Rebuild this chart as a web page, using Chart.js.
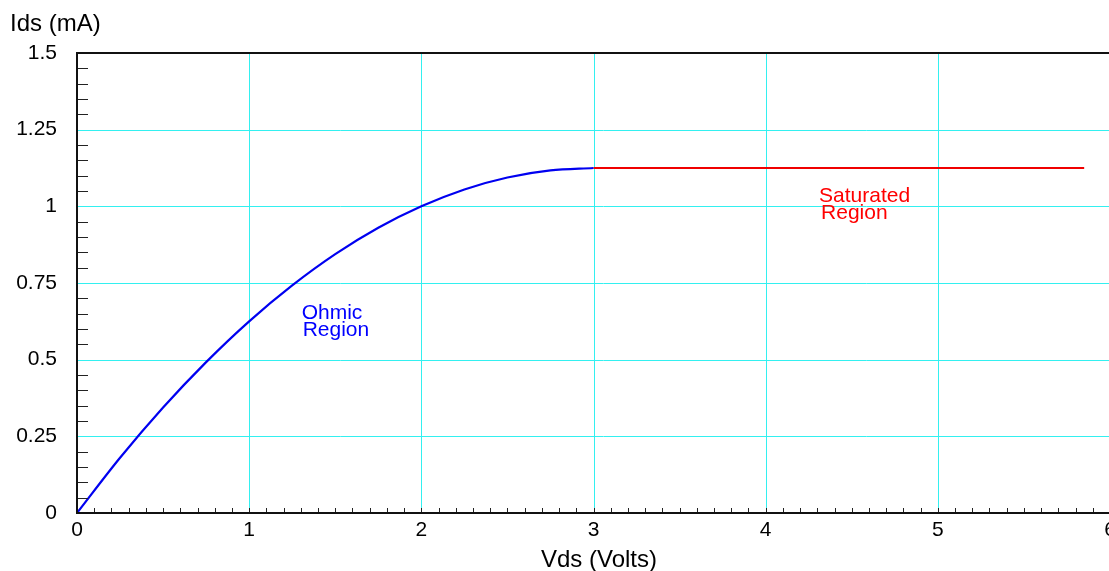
<!DOCTYPE html>
<html>
<head>
<meta charset="utf-8">
<script src="https://cdn.jsdelivr.net/npm/chart.js@4"></script>
<style>
  html, body { margin: 0; padding: 0; background: #fff; overflow: hidden; }
  #wrap { width: 1109px; height: 571px; overflow: hidden; }
</style>
</head>
<body>
<div id="wrap"><canvas id="ivChart" width="1130" height="571"></canvas></div>
<script>
// Ohmic region (Vds, Ids)
const ohmicVds = [0, 0.25, 0.5, 0.75, 1, 1.25, 1.5, 1.75, 2, 2.25, 2.5, 2.75, 3];
const ohmicIds = [0, 0.180, 0.344, 0.492, 0.625, 0.742, 0.844, 0.930, 1.0, 1.055, 1.094, 1.117, 1.125];

// Saturated region, flat line
const satVds = [3, 5.85];
const satIds = [1.125, 1.125];

const xTickStep = 1;
const yTickStep = 0.25;

const labelFont = '"Liberation Sans", Arial, sans-serif';
const gridCyan = '#33f0f0';

// cyan grid behind the curves
const gridPlugin = {
    id: 'cyanGrid',
    beforeDatasetsDraw(chart) {
        const ctx = chart.ctx;
        const a = chart.chartArea;
        ctx.save();
        ctx.strokeStyle = gridCyan;
        ctx.lineWidth = 1;
        ctx.beginPath();
        chart.scales.x.ticks.forEach(t => {
            const px = Math.round(chart.scales.x.getPixelForValue(t.value)) + 0.5;
            ctx.moveTo(px, a.top);
            ctx.lineTo(px, a.bottom);
        });
        chart.scales.y.ticks.forEach(t => {
            const py = Math.round(chart.scales.y.getPixelForValue(t.value)) + 0.5;
            ctx.moveTo(a.left, py);
            ctx.lineTo(a.right + 20, py);
        });
        ctx.stroke();
        ctx.restore();
    }
};

// axis lines, inward minor ticks, axis titles and region labels
const decorPlugin = {
    id: 'decor',
    afterDraw(chart) {
        const ctx = chart.ctx;
        const a = chart.chartArea;
        const xs = chart.scales.x;
        const ys = chart.scales.y;
        ctx.save();

        // minor ticks
        ctx.strokeStyle = '#222';
        ctx.lineWidth = 1;
        ctx.beginPath();
        for (let i = 1; i < 60; i++) {
            const px = Math.round(xs.getPixelForValue(i / 10)) + 0.5;
            ctx.moveTo(px, a.bottom);
            ctx.lineTo(px, a.bottom - 5);
        }
        for (let i = 1; i < 30; i++) {
            if (i % 5 === 0) continue;
            const py = Math.round(ys.getPixelForValue(i * 0.05)) + 0.5;
            ctx.moveTo(a.left, py);
            ctx.lineTo(a.left + 11, py);
        }
        ctx.stroke();

        // frame: left, bottom, top
        ctx.strokeStyle = '#111';
        ctx.lineWidth = 2;
        ctx.beginPath();
        ctx.moveTo(a.right + 20, a.top);
        ctx.lineTo(a.left, a.top);
        ctx.lineTo(a.left, a.bottom);
        ctx.lineTo(a.right + 20, a.bottom);
        ctx.stroke();

        // axis titles
        ctx.fillStyle = '#000';
        ctx.font = '24px ' + labelFont;
        ctx.textBaseline = 'alphabetic';
        ctx.textAlign = 'left';
        ctx.fillText('Ids (mA)', 10, 31);
        ctx.textAlign = 'center';
        ctx.fillText('Vds (Volts)', 599, 567);

        // region labels
        ctx.font = '21px ' + labelFont;
        ctx.textAlign = 'left';
        ctx.fillStyle = '#0000ff';
        let px = xs.getPixelForValue(1.305);
        let py = ys.getPixelForValue(0.633);
        ctx.fillText('Ohmic', px, py);
        ctx.fillText('Region', px + 1, py + 17);

        ctx.fillStyle = '#ff0000';
        px = xs.getPixelForValue(4.31);
        py = ys.getPixelForValue(1.014);
        ctx.fillText('Saturated', px, py);
        ctx.fillText('Region', px + 2, py + 17);

        ctx.restore();
    }
};

new Chart(document.getElementById('ivChart'), {
    type: 'scatter',
    data: {
        datasets: [{
            label: 'Ohmic',
            data: ohmicVds.map((v, i) => ({ x: v, y: ohmicIds[i] })),
            showLine: true,
            borderColor: '#0000f0',
            borderWidth: 2.2,
            pointRadius: 0,
            cubicInterpolationMode: 'monotone'
        }, {
            label: 'Saturated',
            data: satVds.map((v, i) => ({ x: v, y: satIds[i] })),
            showLine: true,
            borderColor: '#f00000',
            borderWidth: 2.2,
            pointRadius: 0
        }]
    },
    options: {
        responsive: false,
        animation: false,
        layout: { padding: { top: 53, right: 20, left: 0, bottom: 0 } },
        plugins: {
            legend: { display: false },
            tooltip: { enabled: false }
        },
        scales: {
            x: {
                type: 'linear',
                min: 0,
                max: 6,
                afterFit: s => { s.height = 58; },
                ticks: {
                    stepSize: xTickStep,
                    color: '#000',
                    padding: 5,
                    maxRotation: 0,
                    autoSkip: false,
                    font: { family: labelFont, size: 21 },
                    callback: v => String(v)
                },
                grid: { display: false, drawTicks: false },
                border: { display: false }
            },
            y: {
                type: 'linear',
                min: 0,
                max: 1.5,
                afterFit: s => { s.width = 77; },
                ticks: {
                    stepSize: yTickStep,
                    color: '#000',
                    padding: 20,
                    autoSkip: false,
                    font: { family: labelFont, size: 21 },
                    callback: v => String(v)
                },
                grid: { display: false, drawTicks: false },
                border: { display: false }
            }
        }
    },
    plugins: [gridPlugin, decorPlugin]
});
</script>
</body>
</html>
